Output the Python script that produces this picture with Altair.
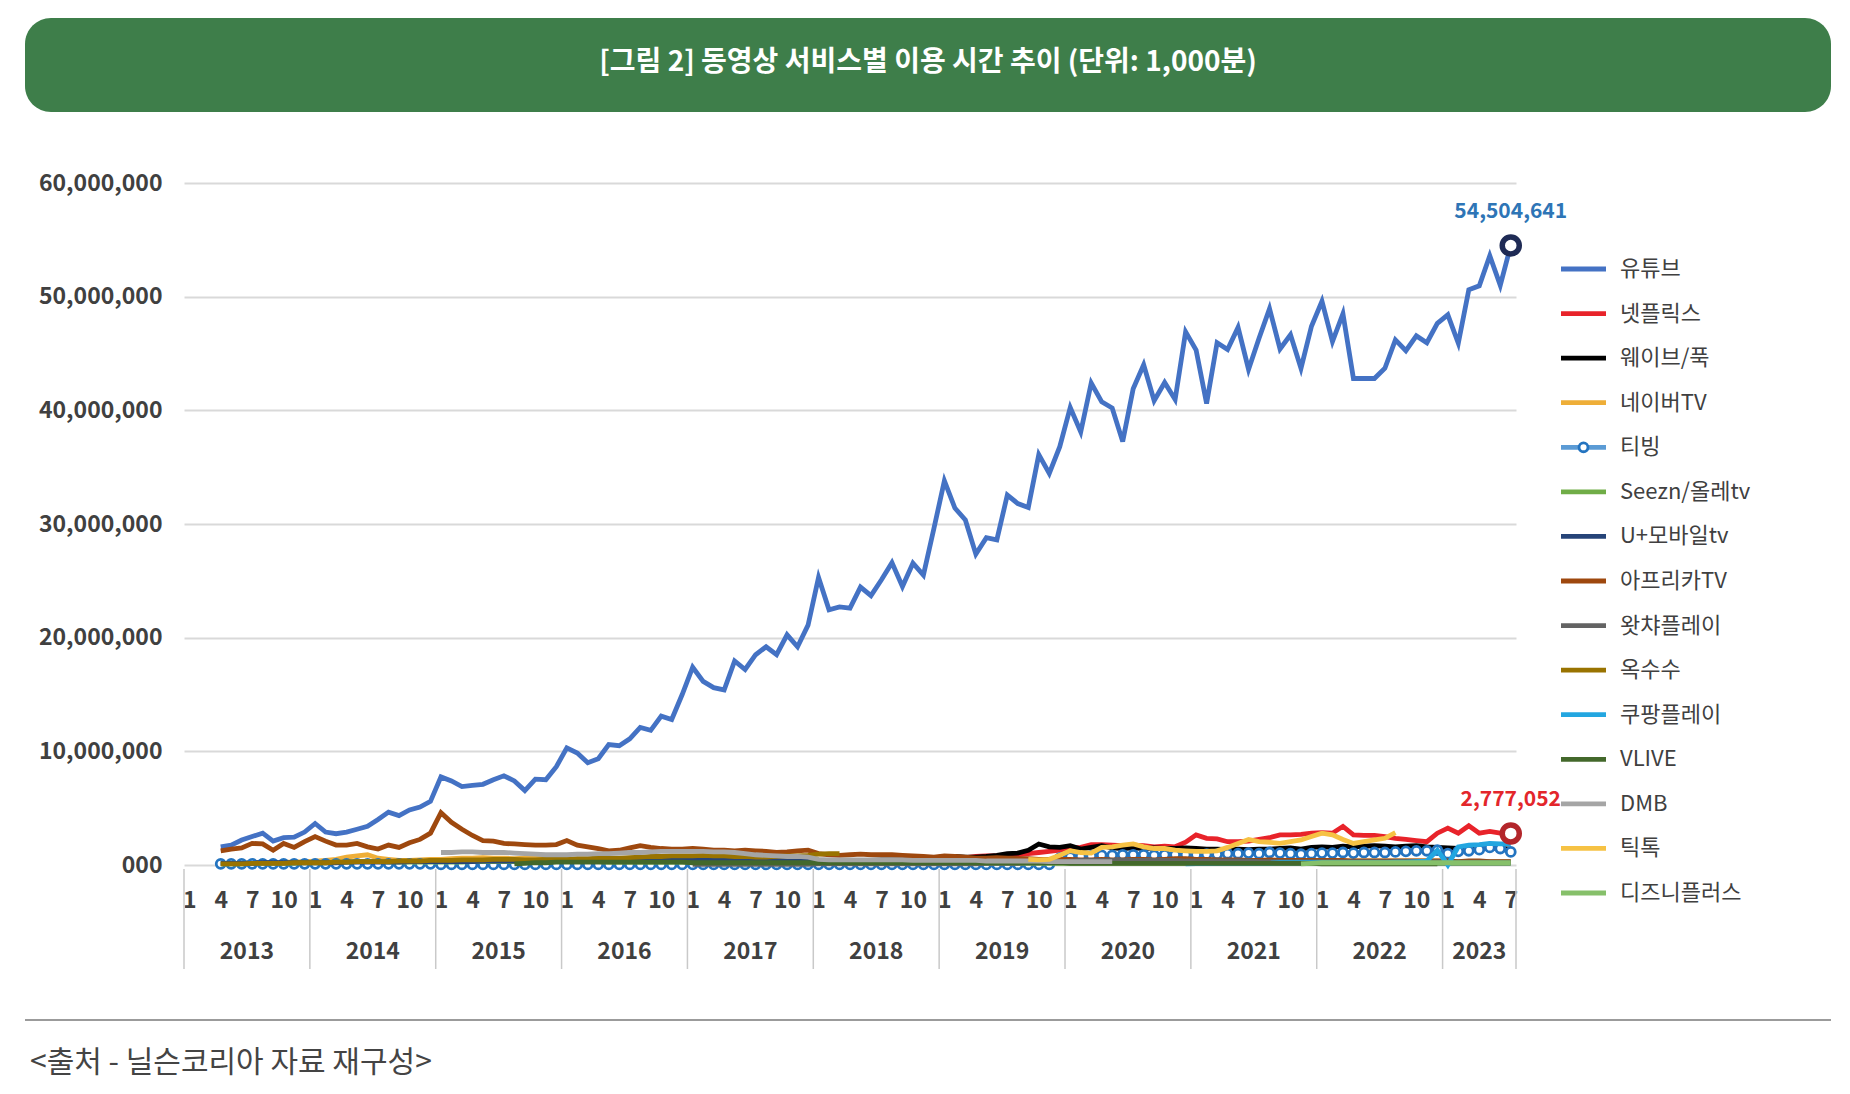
import altair as alt
import pandas as pd

FONT = "Noto Sans CJK KR"
W, H = 1332, 682  # plot area

title_text = "[그림 2] 동영상 서비스별 이용 시간 추이 (단위: 1,000분)"
source_text = "<출처 - 닐슨코리아 자료 재구성>"

years = ["2013", "2014", "2015", "2016", "2017", "2018", "2019", "2020", "2021", "2022", "2023"]
last_idx = 126  # 2023-07, months counted from 2013-01
y_ticks = [0, 10_000_000, 20_000_000, 30_000_000, 40_000_000, 50_000_000, 60_000_000]

names = ["유튜브", "넷플릭스", "웨이브/푹", "네이버TV", "티빙", "Seezn/올레tv", "U+모바일tv",
         "아프리카TV", "왓챠플레이", "옥수수", "쿠팡플레이", "VLIVE", "DMB", "틱톡", "디즈니플러스"]
colors = ["#4472c4", "#e8232a", "#000000", "#eeae38", "#5b9bd5", "#70ad47", "#264478",
          "#9e480e", "#636363", "#997300", "#23a6e0", "#43682b", "#a5a5a5", "#f6c244", "#86c06a"]
starts = ["2013-04", "2018-01", "2013-04", "2013-04", "2013-04", "2013-04", "2013-04",
          "2013-04", "2017-01", "2013-04", "2020-12", "2015-08", "2015-01", "2019-09", "2021-11"]

# values in millions of (1,000 min), one row per year
youtube = [
    1.6, 1.75, 2.2, 2.5, 2.8, 2.1, 2.4, 2.45, 2.9,
    3.65, 2.9, 2.75, 2.9, 3.15, 3.4, 4.0, 4.65, 4.35, 4.85, 5.1, 5.6,
    7.75, 7.4, 6.9, 7.0, 7.1, 7.5, 7.85, 7.4, 6.55, 7.55, 7.5, 8.65,
    10.3, 9.85, 9.0, 9.35, 10.6, 10.5, 11.1, 12.1, 11.85, 13.1, 12.8, 15.0,
    17.4, 16.15, 15.6, 15.4, 17.95, 17.2, 18.5, 19.2, 18.5, 20.25, 19.2, 21.1,
    25.3, 22.45, 22.7, 22.6, 24.45, 23.7, 25.1, 26.6, 24.5, 26.55, 25.5, 29.6,
    33.8, 31.4, 30.35, 27.35, 28.8, 28.6, 32.55, 31.8, 31.45, 36.1, 34.45, 36.8,
    40.25, 38.1, 42.4, 40.75, 40.2, 37.25, 41.9, 44.0, 40.85, 42.45, 40.95, 46.9,
    45.3, 40.6, 45.95, 45.35, 47.3, 43.6, 46.35, 48.95, 45.4, 46.65, 43.7, 47.4,
    49.6, 46.05, 48.5, 42.8, 42.8, 42.8, 43.7, 46.2, 45.25, 46.55, 45.95, 47.65,
    48.4, 45.9, 50.6, 50.95, 53.6, 51.0, 54.504641,
]
netflix = [
    0.25, 0.25, 0.3, 0.3, 0.3, 0.35, 0.35, 0.4, 0.4, 0.45, 0.5, 0.55,
    0.6, 0.6, 0.65, 0.75, 0.8, 0.8, 0.85, 0.9, 1.0, 1.1, 1.2, 1.3,
    1.5, 1.55, 1.8, 1.8, 1.75, 1.7, 1.75, 1.7, 1.6, 1.65, 1.6, 2.0,
    2.65, 2.35, 2.3, 2.05, 2.05, 2.1, 2.25, 2.4, 2.65, 2.65, 2.7, 2.8,
    2.85, 2.8, 3.4, 2.65, 2.6, 2.6, 2.5, 2.35, 2.25, 2.15, 2.05, 2.8,
    3.25, 2.8, 3.45, 2.8, 2.95, 2.8, 2.777052,
]
wavve = [
    0.15, 0.15, 0.15, 0.2, 0.2, 0.2, 0.2, 0.2, 0.25,
    0.25, 0.25, 0.25, 0.25, 0.25, 0.3, 0.3, 0.3, 0.3, 0.3, 0.3, 0.3,
    0.3, 0.3, 0.3, 0.3, 0.3, 0.3, 0.3, 0.3, 0.3, 0.3, 0.3, 0.3,
    0.3, 0.3, 0.3, 0.3, 0.3, 0.3, 0.3, 0.3, 0.3, 0.3, 0.3, 0.3,
    0.35, 0.35, 0.35, 0.35, 0.35, 0.35, 0.35, 0.35, 0.35, 0.35, 0.35, 0.35,
    0.4, 0.4, 0.4, 0.4, 0.4, 0.4, 0.45, 0.45, 0.45, 0.5, 0.55, 0.6,
    0.75, 0.75, 0.7, 0.7, 0.75, 0.85, 1.0, 1.05, 1.3, 1.85, 1.6, 1.55,
    1.7, 1.4, 1.55, 1.7, 1.5, 1.45, 1.5, 1.45, 1.5, 1.45, 1.45, 1.5,
    1.45, 1.4, 1.4, 1.35, 1.4, 1.35, 1.4, 1.4, 1.45, 1.5, 1.4, 1.55,
    1.6, 1.55, 1.65, 1.6, 1.65, 1.7, 1.65, 1.6, 1.65, 1.7, 1.6, 1.55,
    1.5, 1.45, 1.5, 1.45, 1.5, 1.45, 1.4,
]
navertv = [
    0.1, 0.1, 0.15, 0.15, 0.2, 0.2, 0.25, 0.25, 0.3,
    0.35, 0.4, 0.5, 0.7, 0.8, 0.9, 0.6, 0.5, 0.4, 0.4, 0.45, 0.5,
    0.5, 0.55, 0.6, 0.6, 0.65, 0.6, 0.6, 0.55, 0.6, 0.6, 0.55, 0.5,
    0.5, 0.45, 0.5, 0.5, 0.45, 0.5, 0.5, 0.45, 0.45, 0.5, 0.5, 0.45,
    0.45, 0.4, 0.4, 0.4, 0.35, 0.4, 0.35, 0.35, 0.35, 0.3, 0.3, 0.3,
    0.3, 0.3, 0.3, 0.3, 0.3, 0.3, 0.3, 0.3, 0.3, 0.3, 0.3, 0.3,
    0.3, 0.3, 0.3, 0.3, 0.3, 0.35, 0.35, 0.35, 0.4, 0.4, 0.4, 0.4,
    0.4, 0.4, 0.45, 0.45, 0.45, 0.45, 0.45, 0.45, 0.45, 0.45, 0.45, 0.45,
    0.4, 0.4, 0.4, 0.4, 0.4, 0.4, 0.4, 0.4, 0.4, 0.4, 0.4, 0.4,
    0.35, 0.35, 0.35, 0.35, 0.35, 0.35, 0.35, 0.35, 0.35, 0.35, 0.35, 0.35,
    0.3, 0.3, 0.3, 0.3, 0.3, 0.3, 0.3,
]
tving = [
    0.1, 0.1, 0.1, 0.1, 0.1, 0.1, 0.1, 0.1, 0.1,
    0.1, 0.1, 0.1, 0.1, 0.1, 0.1, 0.1, 0.1, 0.1, 0.1, 0.1, 0.1,
    0.05, 0.05, 0.05, 0.05, 0.05, 0.05, 0.05, 0.05, 0.05, 0.05, 0.05, 0.05,
    0.05, 0.05, 0.05, 0.05, 0.05, 0.05, 0.05, 0.05, 0.05, 0.05, 0.05, 0.05,
    0.05, 0.05, 0.05, 0.05, 0.05, 0.05, 0.05, 0.05, 0.05, 0.05, 0.05, 0.05,
    0.05, 0.05, 0.05, 0.05, 0.05, 0.05, 0.05, 0.05, 0.05, 0.05, 0.05, 0.05,
    0.05, 0.05, 0.05, 0.05, 0.05, 0.05, 0.05, 0.05, 0.05, 0.05, 0.05, 0.6,
    0.7, 0.75, 0.8, 0.85, 0.85, 0.9, 0.9, 0.9, 0.85, 0.9, 0.9, 0.9,
    0.9, 0.95, 0.95, 1.0, 1.0, 1.05, 1.0, 1.1, 1.05, 1.0, 0.95, 1.0,
    1.05, 1.05, 1.1, 1.05, 1.1, 1.1, 1.1, 1.15, 1.2, 1.25, 1.25, 1.3,
    1.0, 1.2, 1.25, 1.35, 1.55, 1.45, 1.15,
]
seezn = [
    0.1, 0.1, 0.1, 0.15, 0.15, 0.15, 0.15, 0.15, 0.2,
    0.2, 0.2, 0.25, 0.25, 0.3, 0.3, 0.3, 0.25, 0.25, 0.25, 0.25, 0.25,
    0.25, 0.25, 0.25, 0.3, 0.3, 0.3, 0.3, 0.3, 0.3, 0.3, 0.3, 0.3,
    0.3, 0.3, 0.3, 0.3, 0.25, 0.25, 0.25, 0.25, 0.25, 0.25, 0.25, 0.25,
    0.25, 0.25, 0.2, 0.2, 0.2, 0.2, 0.2, 0.2, 0.2, 0.2, 0.2, 0.2,
    0.2, 0.2, 0.2, 0.2, 0.2, 0.2, 0.15, 0.15, 0.15, 0.15, 0.15, 0.15,
    0.15, 0.15, 0.15, 0.15, 0.15, 0.15, 0.15, 0.15, 0.15, 0.15, 0.15, 0.15,
    0.15, 0.15, 0.15, 0.15, 0.15, 0.15, 0.15, 0.15, 0.15, 0.15, 0.15, 0.15,
    0.15, 0.15, 0.15, 0.15, 0.15, 0.15, 0.15, 0.15, 0.15, 0.15, 0.15, 0.15,
    0.15, 0.15, 0.15, 0.15, 0.15, 0.15, 0.15, 0.15, 0.15, 0.15, 0.15, 0.15,
    0.15, 0.15, 0.15, 0.15, 0.15, 0.15, 0.15,
]
uplus = [
    0.15, 0.15, 0.15, 0.15, 0.2, 0.2, 0.2, 0.2, 0.2,
    0.2, 0.2, 0.2, 0.25, 0.25, 0.25, 0.25, 0.25, 0.25, 0.3, 0.3, 0.3,
    0.3, 0.3, 0.3, 0.3, 0.35, 0.35, 0.35, 0.35, 0.35, 0.35, 0.4, 0.4,
    0.4, 0.4, 0.4, 0.4, 0.45, 0.45, 0.45, 0.45, 0.45, 0.45, 0.45, 0.45,
    0.45, 0.45, 0.45, 0.45, 0.45, 0.45, 0.4, 0.4, 0.4, 0.4, 0.4, 0.4,
    0.35, 0.35, 0.35, 0.35, 0.35, 0.35, 0.3, 0.3, 0.3, 0.3, 0.3, 0.3,
    0.3, 0.3, 0.3, 0.3, 0.3, 0.3, 0.25, 0.25, 0.25, 0.25, 0.25, 0.25,
    0.25, 0.25, 0.25, 0.25, 0.25, 0.25, 0.25, 0.25, 0.25, 0.25, 0.25, 0.25,
    0.2, 0.2, 0.2, 0.2, 0.2, 0.2, 0.2, 0.2, 0.2, 0.2, 0.2, 0.2,
    0.2, 0.2, 0.2, 0.2, 0.2, 0.2, 0.2, 0.2, 0.2, 0.2, 0.2, 0.2,
    0.2, 0.2, 0.2, 0.2, 0.2, 0.2, 0.2,
]
afreeca = [
    1.24, 1.4, 1.5, 1.9, 1.85, 1.3, 1.9, 1.55, 2.05,
    2.5, 2.1, 1.75, 1.75, 1.9, 1.6, 1.4, 1.75, 1.55, 1.95, 2.25, 2.8,
    4.6, 3.75, 3.15, 2.6, 2.15, 2.1, 1.9, 1.85, 1.8, 1.75, 1.75, 1.8,
    2.15, 1.75, 1.6, 1.45, 1.25, 1.3, 1.5, 1.7, 1.55, 1.45, 1.4, 1.4,
    1.45, 1.4, 1.3, 1.3, 1.25, 1.3, 1.25, 1.2, 1.1, 1.15, 1.25, 1.3,
    1.0, 0.9, 0.85, 0.9, 0.95, 0.9, 0.9, 0.9, 0.85, 0.8, 0.75, 0.7,
    0.8, 0.75, 0.7, 0.6, 0.6, 0.65, 0.6, 0.55, 0.55, 0.5, 0.5, 0.5,
    0.5, 0.45, 0.45, 0.5, 0.45, 0.45, 0.5, 0.5, 0.45, 0.5, 0.55, 0.55,
    0.5, 0.5, 0.45, 0.45, 0.45, 0.4, 0.4, 0.45, 0.4, 0.4, 0.4, 0.4,
    0.4, 0.4, 0.4, 0.35, 0.35, 0.35, 0.35, 0.35, 0.35, 0.35, 0.35, 0.35,
    0.35, 0.3, 0.35, 0.35, 0.3, 0.3, 0.3,
]
watcha = [
    0.05, 0.05, 0.05, 0.05, 0.05, 0.05, 0.05, 0.05, 0.05, 0.05, 0.05, 0.05,
    0.1, 0.1, 0.1, 0.1, 0.1, 0.1, 0.1, 0.1, 0.1, 0.1, 0.1, 0.1,
    0.1, 0.1, 0.1, 0.1, 0.15, 0.15, 0.15, 0.15, 0.2, 0.2, 0.25, 0.3,
    0.35, 0.4, 0.4, 0.4, 0.4, 0.4, 0.4, 0.4, 0.4, 0.4, 0.4, 0.35,
    0.35, 0.35, 0.35, 0.35, 0.35, 0.35, 0.3, 0.3, 0.3, 0.3, 0.3, 0.3,
    0.3, 0.3, 0.3, 0.3, 0.3, 0.3, 0.3, 0.3, 0.3, 0.3, 0.3, 0.3,
    0.25, 0.25, 0.25, 0.25, 0.25, 0.25, 0.25,
]
oksusu = [
    0.1, 0.1, 0.1, 0.15, 0.15, 0.15, 0.15, 0.2, 0.2,
    0.2, 0.2, 0.25, 0.25, 0.3, 0.3, 0.3, 0.3, 0.35, 0.35, 0.35, 0.4,
    0.4, 0.4, 0.45, 0.45, 0.45, 0.5, 0.5, 0.5, 0.45, 0.45, 0.5, 0.5,
    0.5, 0.55, 0.55, 0.6, 0.6, 0.6, 0.65, 0.7, 0.75, 0.75, 0.8, 0.8,
    0.8, 0.85, 0.8, 0.8, 0.75, 0.75, 0.7, 0.7, 0.75, 0.8, 0.8, 0.85,
    0.95, 1.0, 1.0,
]
coupang = [
    0.1,
    0.12, 0.12, 0.15, 0.15, 0.15, 0.15, 0.15, 0.15, 0.2, 0.2, 0.2, 0.2,
    0.2, 0.2, 0.2, 0.2, 0.2, 0.2, 0.2, 0.25, 0.25, 0.3, 0.35, 1.3,
    0.0, 1.6, 1.75, 1.8, 1.9, 1.85, 1.85,
]
vlive = [
    0.1, 0.15, 0.2, 0.2, 0.25,
    0.25, 0.25, 0.25, 0.25, 0.25, 0.25, 0.25, 0.25, 0.25, 0.25, 0.25, 0.25,
    0.2, 0.2, 0.2, 0.2, 0.2, 0.2, 0.2, 0.2, 0.2, 0.2, 0.2, 0.2,
    0.2, 0.2, 0.2, 0.2, 0.2, 0.2, 0.2, 0.2, 0.2, 0.2, 0.2, 0.2,
    0.2, 0.2, 0.2, 0.2, 0.2, 0.2, 0.2, 0.2, 0.2, 0.2, 0.2, 0.2,
    0.15, 0.15, 0.15, 0.15, 0.15, 0.15, 0.15, 0.15, 0.15, 0.15, 0.15, 0.15,
    0.15, 0.15, 0.15, 0.15, 0.15, 0.15, 0.15, 0.15, 0.15, 0.15, 0.15, 0.15,
    0.1, 0.1, 0.1, 0.1, 0.1, 0.1, 0.1, 0.1, 0.1, 0.1, 0.1, 0.1,
]
dmb = [
    1.1, 1.1, 1.15, 1.15, 1.1, 1.1, 1.1, 1.05, 1.0, 0.95, 0.9, 0.9,
    0.9, 0.95, 0.95, 1.0, 1.0, 1.05, 1.1, 1.1, 1.15, 1.2, 1.2, 1.2,
    1.2, 1.2, 1.15, 1.15, 1.1, 1.0, 0.9, 0.85, 0.8, 0.75, 0.75, 0.7,
    0.5, 0.45, 0.45, 0.45, 0.45, 0.45, 0.45, 0.45, 0.45, 0.4, 0.4, 0.4,
    0.4, 0.4, 0.4, 0.4, 0.35, 0.35, 0.35, 0.35, 0.35, 0.35, 0.3, 0.3,
    0.3, 0.3, 0.3, 0.3, 0.3,
]
tiktok = [
    0.5, 0.45, 0.5, 0.85,
    1.26, 1.1, 1.05, 1.55, 1.6, 1.75, 1.85, 1.6, 1.45, 1.45, 1.3, 1.25,
    1.2, 1.2, 1.25, 1.55, 1.9, 2.25, 2.05, 2.0, 1.9, 2.05, 2.2, 2.5,
    2.8, 2.65, 2.25, 1.9, 2.05, 2.2, 2.35, 2.85,
]
disney = [
    0.1, 0.15,
    0.2, 0.2, 0.2, 0.2, 0.2, 0.2, 0.2, 0.2, 0.2, 0.2, 0.2, 0.2,
    0.2, 0.2, 0.2, 0.2, 0.2, 0.2, 0.2,
]

series_values = [youtube, netflix, wavve, navertv, tving, seezn, uplus, afreeca,
                 watcha, oksusu, coupang, vlive, dmb, tiktok, disney]


def month_index(s):
    y, m = s.split("-")
    return (int(y) - 2013) * 12 + int(m) - 1


rows = []
for name, start, vals in zip(names, starts, series_values):
    i0 = month_index(start)
    for k, v in enumerate(vals):
        rows.append({"name": name, "idx": i0 + k, "value": round(v * 1_000_000)})
df = pd.DataFrame(rows)

yr_first = [i * 12 for i in range(len(years))]
yr_last = [min(f + 11, last_idx) for f in yr_first]
year_df = pd.DataFrame({"year": years, "idx": [(a + b) / 2 for a, b in zip(yr_first, yr_last)]})
edge_df = pd.DataFrame({"idx": [f - 0.5 for f in yr_first] + [last_idx + 0.5]})

x_scale = alt.Scale(domain=[-0.5, last_idx + 0.5], nice=False, zero=False)
y_scale = alt.Scale(domain=[0, 60_000_000], nice=False)
x_axis = alt.Axis(
    values=list(range(0, last_idx + 1, 3)),
    labelExpr="datum.value % 12 + 1",
    labelFont=FONT, labelFontWeight="bold", labelFontSize=23, labelColor="#404040",
    labelPadding=24, labelFlush=False, labelOverlap=False,
    ticks=False, domain=False, grid=False, title=None,
)
y_axis = alt.Axis(
    values=y_ticks,
    labelExpr="datum.value == 0 ? '000' : format(datum.value, ',')",
    labelFont=FONT, labelFontWeight="bold", labelFontSize=23, labelColor="#404040",
    labelPadding=22, ticks=False, domain=False,
    gridColor="#d9d9d9", gridWidth=2, title=None,
)
x_enc = alt.X("idx:Q", scale=x_scale, axis=x_axis)
y_enc = alt.Y("value:Q", scale=y_scale, axis=y_axis)

layers = []
for name, color in zip(names, colors):
    sub = df[df["name"] == name]
    layers.append(
        alt.Chart(sub).mark_line(color=color, strokeWidth=4.8).encode(x=x_enc, y=y_enc)
    )
    if name == "티빙":
        layers.append(
            alt.Chart(sub).mark_point(shape="circle", filled=True, fill="white", opacity=1,
                                      stroke="#2474c0", strokeWidth=2.8, size=80)
            .encode(x=x_enc, y=y_enc)
        )

# end-point markers and value labels
for name, ring, label_color in [("유튜브", "#1f2b55", "#2e75b6"), ("넷플릭스", "#b3262b", "#e3262b")]:
    end = df[(df["name"] == name) & (df["idx"] == last_idx)]
    layers.append(
        alt.Chart(end).mark_point(shape="circle", filled=True, fill="white", opacity=1,
                                  stroke=ring, strokeWidth=5.5, size=290)
        .encode(x=x_enc, y=y_enc)
    )
    layers.append(
        alt.Chart(end).mark_text(font=FONT, fontWeight="bold", fontSize=21,
                                 color=label_color, dy=-33)
        .encode(x=x_enc, y=y_enc, text=alt.Text("value:Q", format=","))
    )

# year separators and year labels under the month labels
layers.append(
    alt.Chart(edge_df).mark_rule(color="#c9c9c9", strokeWidth=1.5)
    .encode(x=x_enc, y=alt.value(H + 4), y2=alt.value(H + 104))
)
layers.append(
    alt.Chart(year_df).mark_text(font=FONT, fontWeight="bold", fontSize=23,
                                 color="#404040", baseline="middle")
    .encode(x=x_enc, y=alt.value(H + 87), text="year:N")
)
plot = alt.layer(*layers)

# legend drawn on the right
legend_df = pd.DataFrame({"name": names})
ly = alt.Y("name:N", sort=names, axis=None,
           scale=alt.Scale(type="point", range=[86, 710], padding=0))
lc = alt.Color("name:N", scale=alt.Scale(domain=names, range=colors), legend=None)
leg_lines = alt.Chart(legend_df).mark_rule(strokeWidth=4.8).encode(
    y=ly, x=alt.value(1377), x2=alt.value(1422), color=lc)
leg_dot = alt.Chart(legend_df[legend_df["name"] == "티빙"]).mark_point(
    shape="circle", filled=True, fill="white", opacity=1,
    stroke="#2474c0", strokeWidth=2.8, size=80).encode(y=ly, x=alt.value(1399.5))
leg_text = alt.Chart(legend_df).mark_text(
    align="left", baseline="middle", font=FONT, fontSize=22, color="#404040").encode(
    y=ly, x=alt.value(1436), text="name:N")
legend = alt.layer(leg_lines, leg_dot, leg_text)

# title banner and footer
one = pd.DataFrame({"t": [title_text], "s": [source_text]})
banner = alt.Chart(one).mark_rect(color="#3e7e4a", cornerRadius=26).encode(
    x=alt.value(-159), x2=alt.value(1647), y=alt.value(-165), y2=alt.value(-71))
banner_text = alt.Chart(one).mark_text(
    font=FONT, fontWeight="bold", fontSize=28, color="white",
    align="center", baseline="middle").encode(x=alt.value(744), y=alt.value(-120), text="t:N")
footer_rule = alt.Chart(one).mark_rule(color="#7a7a7a", strokeWidth=1.5).encode(
    x=alt.value(-159), x2=alt.value(1647), y=alt.value(837))
footer_text = alt.Chart(one).mark_text(
    font=FONT, fontSize=30, color="#444444", align="left", baseline="middle").encode(
    x=alt.value(-154), y=alt.value(880), text="s:N")

chart = (
    alt.layer(banner, banner_text, plot, legend, footer_rule, footer_text)
    .resolve_scale(y="independent", color="independent")
    .properties(width=W, height=H,
                padding={"left": 16, "top": 10, "right": 10, "bottom": 10})
    .configure_view(stroke=None)
)

chart.save("out.html", embed_options={"renderer": "svg", "actions": False})
